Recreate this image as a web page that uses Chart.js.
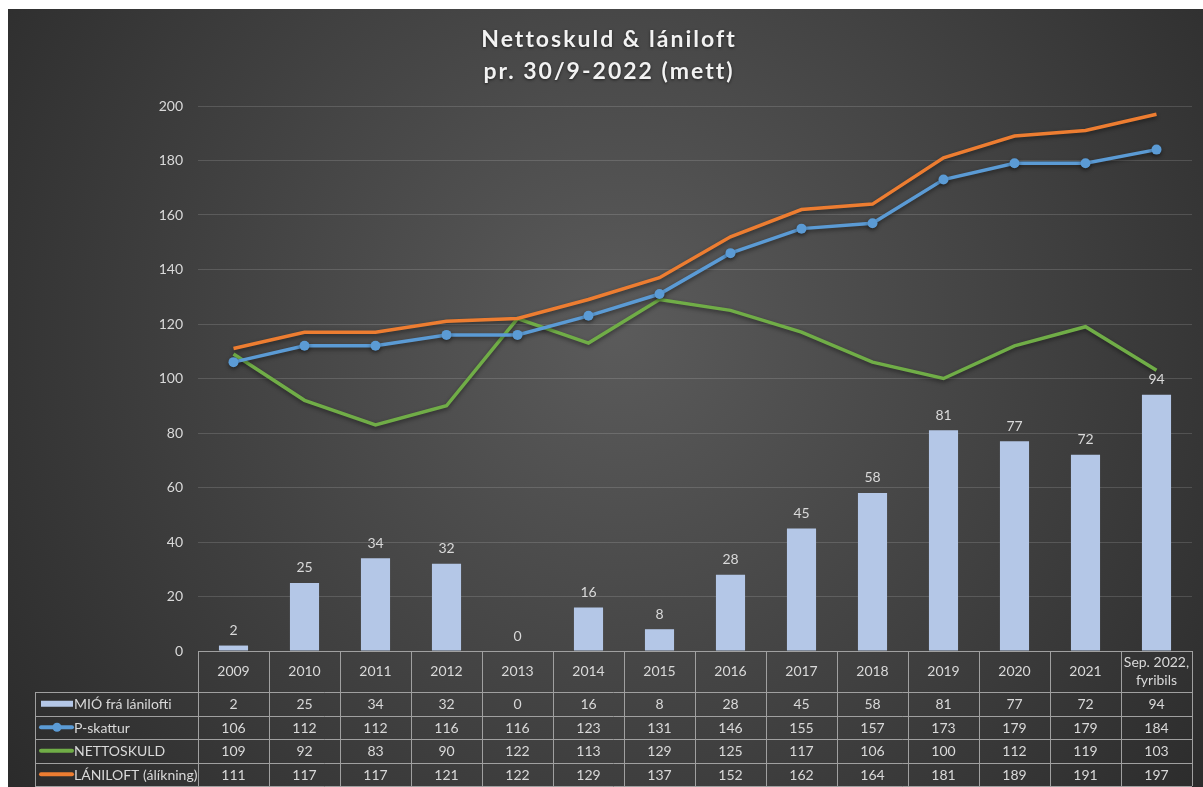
<!DOCTYPE html>
<html>
<head>
<meta charset="utf-8">
<script src="https://cdn.jsdelivr.net/npm/chart.js@4"></script>
<style>
  html, body { margin: 0; padding: 0; background: #fff; overflow: hidden; }
  #wrap { position: absolute; left: 8px; top: 9px; width: 1195px; height: 778px; }
</style>
</head>
<body>
<div id="wrap"><canvas id="chartSkuld"></canvas></div>
<script>
// data (mió. kr.)
const categories = ['2009', '2010', '2011', '2012', '2013', '2014', '2015', '2016', '2017', '2018', '2019', '2020', '2021', ['Sep. 2022,', 'fyribils']];
const mioFraLaniloft = [2, 25, 34, 32, 0, 16, 8, 28, 45, 58, 81, 77, 72, 94];
const pSkattur = [106, 112, 112, 116, 116, 123, 131, 146, 155, 157, 173, 179, 179, 184];
const nettoskuld = [109, 92, 83, 90, 122, 113, 129, 125, 117, 106, 100, 112, 119, 103];
const laniloft = [111, 117, 117, 121, 122, 129, 137, 152, 162, 164, 181, 189, 191, 197];
const yTicks = [0, 20, 40, 60, 80, 100, 120, 140, 160, 180, 200];

const titleLines = ['Nettoskuld & lániloft', 'pr. 30/9-2022 (mett)'];
const FONT = 'Lato, "Open Sans", sans-serif';
const TXT = '#d9d9d9';

const ctx = document.getElementById('chartSkuld').getContext('2d');

// dark radial background + title
const bgPlugin = {
  id: 'bg',
  beforeDraw(chart) {
    const c = chart.ctx;
    const g = c.createRadialGradient(610, 320, 0, 610, 320, 760);
    g.addColorStop(0, '#5b5b5b');
    g.addColorStop(1, '#2b2b2b');
    c.save();
    c.fillStyle = g;
    c.fillRect(0, 0, chart.width, chart.height);
    c.restore();
  },
  afterDraw(chart) {
    const c = chart.ctx;
    c.save();
    c.fillStyle = '#f2f2f2';
    c.font = 'bold 23px ' + FONT;
    c.letterSpacing = '2px';
    c.textAlign = 'center';
    c.textBaseline = 'middle';
    c.shadowColor = 'rgba(0,0,0,0.6)';
    c.shadowBlur = 3;
    c.shadowOffsetY = 1;
    c.fillText(titleLines[0], 601, 31);
    c.fillText(titleLines[1], 601, 63);
    c.restore();
  }
};

// numbers above the bars
const barLabels = {
  id: 'barLabels',
  afterDatasetsDraw(chart) {
    const c = chart.ctx;
    const meta = chart.getDatasetMeta(0);
    c.save();
    c.fillStyle = TXT;
    c.font = '14px ' + FONT;
    c.textAlign = 'center';
    c.textBaseline = 'middle';
    meta.data.forEach((bar, i) => {
      c.fillText(String(mioFraLaniloft[i]), bar.x, bar.y - 15);
    });
    c.restore();
  }
};

// data table under the plot
const dataTable = {
  id: 'dataTable',
  afterDraw(chart) {
    const c = chart.ctx;
    const area = chart.chartArea;
    const x = chart.scales.x;
    const n = categories.length;
    const w = (area.right - area.left) / n;
    const top = area.bottom;
    const headBottom = top + 41;
    const rowH = 23.5;
    const legendLeft = 27;
    const rows = [
      { label: 'MIÓ frá lánilofti', values: mioFraLaniloft, kind: 'bar', color: '#b4c7e7' },
      { label: 'P-skattur', values: pSkattur, kind: 'marker', color: '#5b9bd5' },
      { label: 'NETTOSKULD', values: nettoskuld, kind: 'line', color: '#70ad47' },
      { label: 'LÁNILOFT (álíkning)', values: laniloft, kind: 'line', color: '#ed7d31' }
    ];
    const bottom = headBottom + rowH * rows.length;

    c.save();
    c.strokeStyle = '#a0a0a0';
    c.lineWidth = 1;
    c.beginPath();
    // horizontal lines
    c.moveTo(area.left, top + 0.5); c.lineTo(area.right, top + 0.5);
    for (let r = 0; r <= rows.length; r++) {
      const y = Math.round(headBottom + r * rowH) + 0.5;
      c.moveTo(legendLeft, y); c.lineTo(area.right, y);
    }
    // vertical lines
    for (let i = 0; i <= n; i++) {
      const xx = Math.round(area.left + i * w) + 0.5;
      c.moveTo(xx, top); c.lineTo(xx, bottom);
    }
    c.moveTo(legendLeft + 0.5, headBottom); c.lineTo(legendLeft + 0.5, bottom);
    c.stroke();

    c.fillStyle = TXT;
    c.font = '14px ' + FONT;
    c.textAlign = 'center';
    c.textBaseline = 'middle';
    categories.forEach((cat, i) => {
      const cx = x.getPixelForValue(i);
      const cy = (top + headBottom) / 2;
      if (Array.isArray(cat)) {
        c.fillText(cat[0], cx, cy - 9);
        c.fillText(cat[1], cx, cy + 9);
      } else {
        c.fillText(cat, cx, cy);
      }
    });

    rows.forEach((row, r) => {
      const cy = headBottom + r * rowH + rowH / 2;
      c.fillStyle = TXT;
      c.textAlign = 'center';
      row.values.forEach((v, i) => c.fillText(String(v), x.getPixelForValue(i), cy + 1));
      // legend key
      if (row.kind === 'bar') {
        c.fillStyle = row.color;
        c.fillRect(33, cy - 3, 32, 6);
      } else {
        c.strokeStyle = row.color;
        c.lineWidth = 4;
        c.lineCap = 'round';
        c.beginPath(); c.moveTo(33, cy); c.lineTo(64, cy); c.stroke();
        if (row.kind === 'marker') {
          c.fillStyle = row.color;
          c.beginPath(); c.arc(49, cy, 4.5, 0, Math.PI * 2); c.fill();
        }
      }
      c.fillStyle = TXT;
      c.textAlign = 'left';
      c.fillText(row.label, 66, cy + 1);
    });
    c.restore();
  }
};

const lineShadow = {
  id: 'lineShadow',
  beforeDatasetDraw(chart, args) {
    if (args.meta.type !== 'line') return;
    const c = chart.ctx;
    c.save();
    c.shadowColor = 'rgba(0,0,0,0.45)';
    c.shadowBlur = 4;
    c.shadowOffsetY = 2;
  },
  afterDatasetDraw(chart, args) {
    if (args.meta.type !== 'line') return;
    chart.ctx.restore();
  }
};

new Chart(ctx, {
  data: {
    labels: categories,
    datasets: [
      {
        type: 'bar',
        label: 'MIÓ frá lánilofti',
        data: mioFraLaniloft,
        backgroundColor: '#b4c7e7',
        barPercentage: 0.41,
        categoryPercentage: 1,
        order: 4
      },
      {
        type: 'line',
        label: 'NETTOSKULD',
        data: nettoskuld,
        borderColor: '#70ad47',
        borderWidth: 3.5,
        pointRadius: 0,
        tension: 0,
        order: 3
      },
      {
        type: 'line',
        label: 'LÁNILOFT (álíkning)',
        data: laniloft,
        borderColor: '#ed7d31',
        borderWidth: 3.5,
        pointRadius: 0,
        tension: 0,
        order: 2
      },
      {
        type: 'line',
        label: 'P-skattur',
        data: pSkattur,
        borderColor: '#5b9bd5',
        backgroundColor: '#5b9bd5',
        borderWidth: 3.5,
        pointRadius: 5,
        pointBorderWidth: 0,
        tension: 0,
        order: 1
      }
    ]
  },
  options: {
    responsive: true,
    maintainAspectRatio: false,
    animation: false,
    layout: { padding: { top: 97, right: 11, bottom: 136, left: 0 } },
    plugins: {
      legend: { display: false },
      title: { display: false },
      tooltip: { enabled: false }
    },
    scales: {
      x: {
        display: false,
        offset: true
      },
      y: {
        min: 0,
        max: 200,
        afterFit(scale) { scale.width = 190; },
        afterBuildTicks(scale) { scale.ticks = yTicks.map(v => ({ value: v })); },
        border: { display: false },
        grid: {
          color: ctx => ctx.tick.value === 0 ? 'rgba(0,0,0,0)' : 'rgba(255,255,255,0.14)',
          drawTicks: false
        },
        ticks: {
          color: TXT,
          padding: 15,
          font: { family: FONT, size: 14 }
        }
      }
    }
  },
  plugins: [bgPlugin, lineShadow, barLabels, dataTable]
});
</script>
</body>
</html>
